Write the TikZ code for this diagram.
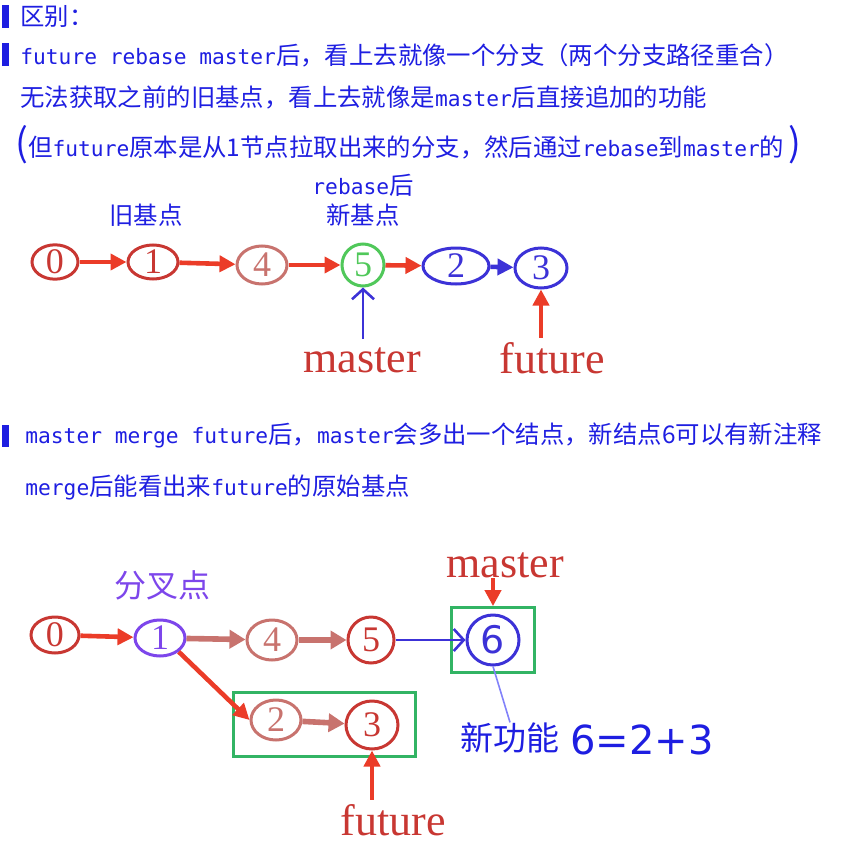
\documentclass[tikz,border=0pt]{standalone}
\usepackage{fontspec}
\setmainfont{Noto Sans CJK SC}
\newfontfamily\monofont{DejaVu Sans Mono}[Scale=0.87]
\newfontfamily\seriffont{Liberation Serif}
\newfontfamily\handfont{DejaVu Sans}
\usetikzlibrary{shapes.geometric,arrows.meta,fit}
\definecolor{noteblue}{RGB}{30,30,225}
\definecolor{nodered}{RGB}{200,55,50}
\definecolor{fadered}{RGB}{200,115,110}
\definecolor{arrowred}{RGB}{235,60,40}
\definecolor{gitblue}{RGB}{60,50,215}
\definecolor{gitgreen}{RGB}{80,200,90}
\definecolor{boxgreen}{RGB}{50,180,100}
\definecolor{forkpurple}{RGB}{125,70,235}
\definecolor{linkblue}{RGB}{130,130,250}
\newcommand\monotxt[1]{{\monofont #1}}
\begin{document}
\begin{tikzpicture}[
                x=0.5pt, y=-0.5pt,
                note/.style={anchor=west, inner sep=0, text=noteblue, font=\fontsize{12.2}{14}\selectfont},
                label/.style={inner sep=0, text=noteblue, font=\fontsize{12.2}{14}\selectfont},
                commit/.style={ellipse, draw=nodered, line width=1.5pt, inner sep=0, text=nodered,
                        font=\seriffont\fontsize{18}{18}\selectfont},
                branch/.style={inner sep=0, text=nodered, font=\seriffont\fontsize{22}{22}\selectfont},
                redarrow/.style={draw=arrowred, line width=2.3pt, -{Triangle[length=8pt,width=8pt]}},
                fadearrow/.style={draw=fadered, line width=2.8pt, -{Triangle[length=8pt,width=9pt]}},
                bluearrow/.style={draw=gitblue, line width=1.3pt, -{Straight Barb[length=5pt,width=11pt]}},
                greenbox/.style={draw=boxgreen, line width=1.4pt, inner sep=0}
            ]
            \useasboundingbox (0,0) rectangle (850,862);

            \fill[noteblue] (2,5) rectangle (9,28);
            \fill[noteblue] (2,43) rectangle (9,66);
            \fill[noteblue] (2,425) rectangle (9,447);
            \node[note] (t0) at (20,17) {区别：};
            \node[note] (t1) at (20,55) {\monotxt{future rebase master}后，看上去就像一个分支（两个分支路径重合）};
            \node[note] (t2) at (20,97) {无法获取之前的旧基点，看上去就像是\monotxt{master}后直接追加的功能};
            \node[note] (t3) at (15,145) {{\fontsize{19}{19}\selectfont (}但\monotxt{future}原本是从1节点拉取出来的分支，然后通过\monotxt{rebase}到\monotxt{master}的\,{\fontsize{19}{19}\selectfont )}};
            \node[note] (t4) at (25,435) {\monotxt{master merge future}后，\monotxt{master}会多出一个结点，新结点6可以有新注释};
            \node[note] (t5) at (25,487) {\monotxt{merge}后能看出来\monotxt{future}的原始基点};

            % rebase
            \node[label] (old) at (146,215) {旧基点};
            \node[label] (reb) at (363,185) {\monotxt{rebase}后};
            \node[label] (new) at (363,215) {新基点};
            \node[commit, minimum width=23pt, minimum height=16pt] (c0) at (55,262) {0};
            \node[commit, minimum width=25pt, minimum height=17pt] (c1) at (153,262) {1};
            \node[commit, draw=fadered, text=fadered, minimum width=25pt, minimum height=19pt] (c4) at (262,265) {4};
            \node[commit, draw=gitgreen, text=gitgreen, minimum width=21pt, minimum height=21pt] (c5) at (363,265) {5};
            \node[commit, draw=gitblue, text=gitblue, minimum width=33pt, minimum height=18pt] (c2) at (456,266) {2};
            \node[commit, draw=gitblue, text=gitblue, minimum width=26pt, minimum height=20pt] (c3) at (541,268) {3};
            \node[branch] (m1) at (362,360) {master};
            \node[branch] (f1) at (552,358) {future};
            \draw[redarrow] (c0) -- (c1);
            \draw[redarrow] (c1) -- (c4);
            \draw[redarrow] (c4) -- (c5);
            \draw[redarrow] (c5) -- (c2);
            \draw[redarrow, draw=gitblue] (c2) -- (c3);
            \draw[bluearrow, shorten <=4pt] (m1.north -| c5) -- (c5.south);
            \draw[redarrow, shorten <=2pt] (f1.north -| c3) -- (c3.south);

            % merge
            \node[inner sep=0, text=forkpurple, font=\fontsize{16}{18}\selectfont] (fork) at (162,585) {分叉点};
            \node[commit, minimum width=24pt, minimum height=18pt] (d0) at (55,635) {0};
            \node[commit, draw=forkpurple, text=forkpurple, minimum width=25pt, minimum height=18pt] (d1) at (160,638) {1};
            \node[commit, draw=fadered, text=fadered, minimum width=25pt, minimum height=20pt] (d4) at (272,640) {4};
            \node[commit, minimum width=23pt, minimum height=23pt] (d5) at (371,640) {5};
            \node[commit, draw=gitblue, text=gitblue, font=\handfont\fontsize{19}{19}\selectfont,
                    minimum width=26pt, minimum height=25pt] (d6) at (493,640) {6};
            \node[commit, draw=fadered, text=fadered, minimum width=25pt, minimum height=20pt] (d2) at (276,720) {2};
            \node[commit, minimum width=26pt, minimum height=24pt] (d3) at (372,725) {3};
            \node[greenbox, fit=(d6), inner xsep=7pt, inner ysep=3pt] (b6) {};
            \node[greenbox, fit=(d2)(d3), inner xsep=8pt, inner ysep=3pt] (b23) {};
            \node[branch] (m2) at (505,565) {master};
            \node[branch] (f2) at (393,820) {future};
            \node[inner sep=0, text=noteblue, font=\fontsize{16.5}{18}\selectfont] (feat) at (510,738) {新功能};
            \node[anchor=west, inner sep=0, text=noteblue, font=\handfont\fontsize{20}{20}\selectfont] (sum) at (570,740) {6=2+3};
            \draw[redarrow] (d0) -- (d1);
            \draw[fadearrow] (d1) -- (d4);
            \draw[fadearrow] (d4) -- (d5);
            \draw[bluearrow] (d5) -- (d6);
            \draw[redarrow] (d1.south east) -- (d2.west);
            \draw[fadearrow] (d2) -- (d3);
            \draw[redarrow] (m2.south -| b6.north) -- (b6.north);
            \draw[redarrow, shorten <=2pt] (f2.north -| d3) -- (d3.south);
            \draw[linkblue, line width=0.8pt] (d6.south) -- (feat.north);

        \end{tikzpicture}
\end{document}
